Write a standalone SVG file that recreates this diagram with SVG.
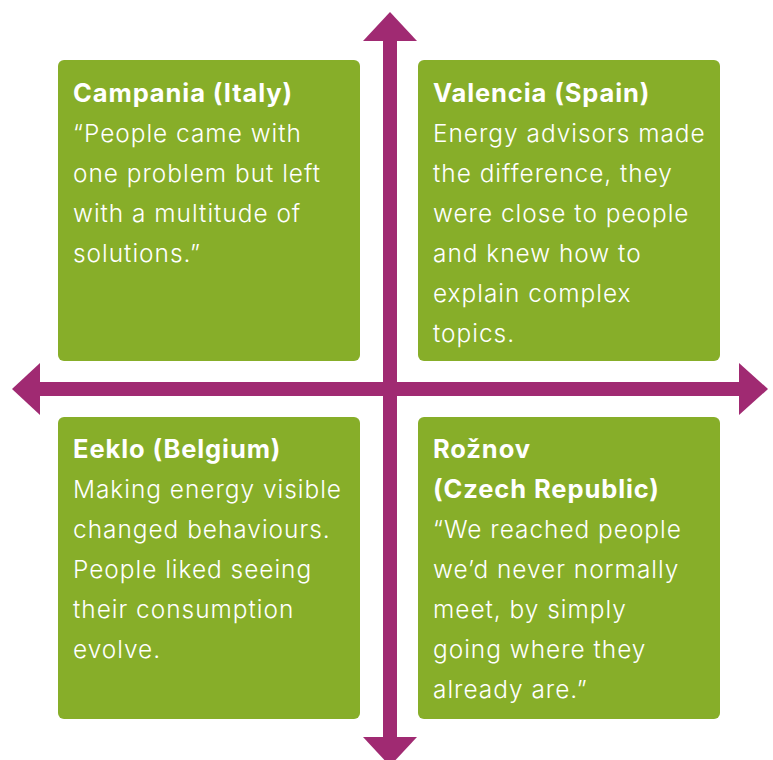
<svg xmlns="http://www.w3.org/2000/svg" width="773" height="760" viewBox="0 0 773 760">
<style>
.box{fill:#87ae29}
.ax{fill:#a02a72}
text{font-family:Inter,"Open Sans","Liberation Sans",sans-serif;fill:#fff;font-size:24.4px;letter-spacing:1px;font-weight:300}
.t{font-weight:650;font-size:25.5px;letter-spacing:0.9px}
</style>
<rect width="773" height="760" fill="#fff"/>
<g id="node-campania">
<rect class="box" x="58" y="60" width="302" height="301" rx="6"/>
<text x="73" y="102" class="t">Campania (Italy)</text>
<text x="73" y="142">“People came with</text>
<text x="73" y="182">one problem but left</text>
<text x="73" y="222">with a multitude of</text>
<text x="73" y="262">solutions.”</text>
</g>
<g id="node-valencia">
<rect class="box" x="418" y="60" width="302" height="301" rx="6"/>
<text x="433" y="102" class="t">Valencia (Spain)</text>
<text x="433" y="142">Energy advisors made</text>
<text x="433" y="182">the difference, they</text>
<text x="433" y="222">were close to people</text>
<text x="433" y="262">and knew how to</text>
<text x="433" y="302">explain complex</text>
<text x="433" y="342">topics.</text>
</g>
<g id="node-eeklo">
<rect class="box" x="58" y="417" width="302" height="302" rx="6"/>
<text x="73" y="458" class="t">Eeklo (Belgium)</text>
<text x="73" y="498">Making energy visible</text>
<text x="73" y="538">changed behaviours.</text>
<text x="73" y="578">People liked seeing</text>
<text x="73" y="618">their consumption</text>
<text x="73" y="658">evolve.</text>
</g>
<g id="node-roznov">
<rect class="box" x="418" y="417" width="302" height="302" rx="6"/>
<text x="433" y="458" class="t">Rožnov</text>
<text x="433" y="498" class="t">(Czech Republic)</text>
<text x="433" y="538">“We reached people</text>
<text x="433" y="578">we’d never normally</text>
<text x="433" y="618">meet, by simply</text>
<text x="433" y="658">going where they</text>
<text x="433" y="698">already are.”</text>
</g>
<g id="connectors">
<rect class="ax" x="383" y="40" width="14" height="698"/>
<rect class="ax" x="39" y="382" width="701" height="14"/>
<polygon class="ax" points="390,12 417,41 363,41"/>
<polygon class="ax" points="390,766 417,737 363,737"/>
<polygon class="ax" points="12,389 40,363 40,415"/>
<polygon class="ax" points="768,389 739,363 739,415"/>
</g>
</svg>
